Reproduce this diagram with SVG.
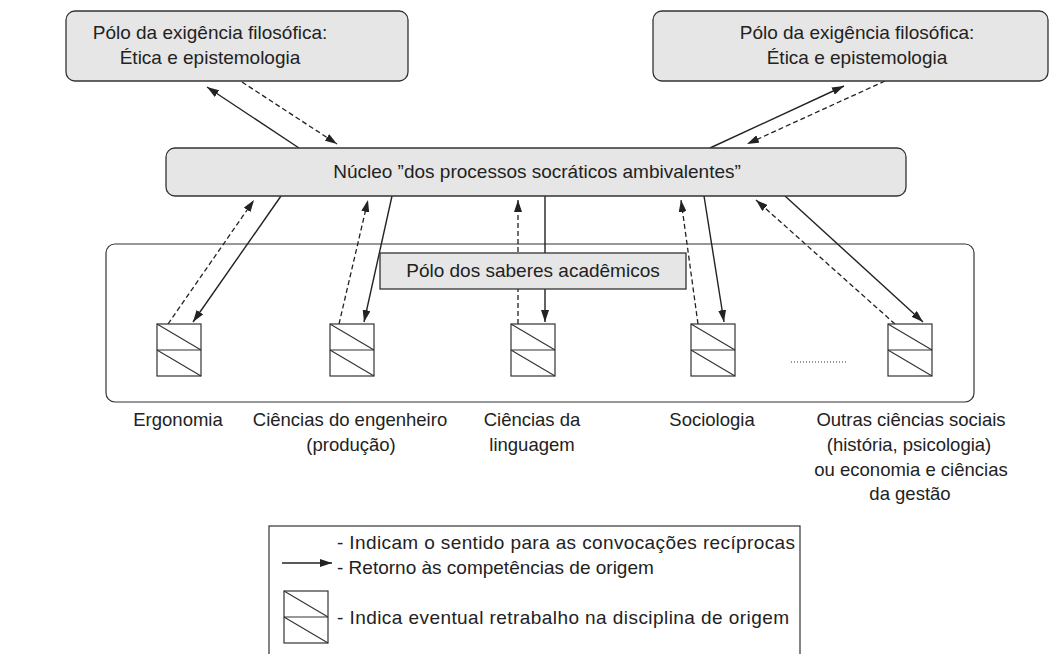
<svg xmlns="http://www.w3.org/2000/svg" width="1049" height="654" viewBox="0 0 1049 654">
<style>
.bx{fill:#e6e6e6;stroke:#333;stroke-width:1.3}
.frame{fill:none;stroke:#333;stroke-width:1.2}
.t{font-family:"Liberation Sans",Arial,sans-serif;font-size:19px;fill:#222}
.l{font-size:18.5px}
.c{text-anchor:middle}
.s{fill:none;stroke:#222;stroke-width:1.4}
.d{fill:none;stroke:#222;stroke-width:1.3;stroke-dasharray:5 3}
.sq{fill:#fff;stroke:#333;stroke-width:1.2}
.sql{stroke:#333;stroke-width:1.1;fill:none}
</style>
<defs>
<marker id="ah" viewBox="0 0 12 8" refX="12" refY="4" markerWidth="12" markerHeight="8" markerUnits="userSpaceOnUse" orient="auto">
<path d="M0,0 L12,4 L0,8 Z" fill="#222"/>
</marker>
<g id="sqsym">
<rect class="sq" x="0" y="0" width="44" height="52"/>
<line class="sql" x1="0" y1="26" x2="44" y2="26"/>
<line class="sql" x1="0" y1="0" x2="44" y2="26"/>
<line class="sql" x1="0" y1="26" x2="44" y2="52"/>
</g>
</defs>
<rect width="1049" height="654" fill="#fff"/>

<g id="outer-frame">
<rect class="frame" x="106" y="244" width="868" height="158" rx="9"/>
</g>

<g id="connectors">
<line class="s" x1="299" y1="148" x2="207" y2="87" marker-end="url(#ah)"/>
<line class="d" x1="242" y1="82" x2="337" y2="144" marker-end="url(#ah)"/>
<line class="s" x1="710" y1="148" x2="844" y2="86" marker-end="url(#ah)"/>
<line class="d" x1="885" y1="81" x2="747" y2="144" marker-end="url(#ah)"/>

<line class="d" x1="168" y1="324" x2="254" y2="200" marker-end="url(#ah)"/>
<line class="s" x1="281" y1="196" x2="193" y2="322" marker-end="url(#ah)"/>
<line class="d" x1="339" y1="324" x2="368" y2="200" marker-end="url(#ah)"/>
<line class="s" x1="392" y1="196" x2="364" y2="322" marker-end="url(#ah)"/>
<line class="d" x1="518" y1="324" x2="518" y2="200" marker-end="url(#ah)"/>
<line class="s" x1="545" y1="196" x2="545" y2="322" marker-end="url(#ah)"/>
<line class="d" x1="698" y1="324" x2="681" y2="200" marker-end="url(#ah)"/>
<line class="s" x1="704" y1="196" x2="724" y2="322" marker-end="url(#ah)"/>
<line class="d" x1="895" y1="324" x2="756" y2="200" marker-end="url(#ah)"/>
<line class="s" x1="785" y1="196" x2="923" y2="322" marker-end="url(#ah)"/>
</g>

<g id="polo-filosofico-1">
<rect class="bx" x="66" y="11" width="342" height="70" rx="9"/>
<text class="t c" x="210" y="39">Pólo da exigência filosófica:</text>
<text class="t c" x="210" y="64">Ética e epistemologia</text>
</g>

<g id="polo-filosofico-2">
<rect class="bx" x="653" y="11" width="395" height="70" rx="9"/>
<text class="t c" x="857" y="39">Pólo da exigência filosófica:</text>
<text class="t c" x="857" y="64">Ética e epistemologia</text>
</g>

<g id="nucleo">
<rect class="bx" x="166" y="148" width="740" height="48" rx="9"/>
<text class="t c" x="537" y="178">Núcleo ”dos processos socráticos ambivalentes”</text>
</g>

<g id="polo-saberes">
<rect class="bx" x="380" y="253" width="306" height="36"/>
<text class="t c" x="533" y="277">Pólo dos saberes acadêmicos</text>
</g>

<g id="ergonomia">
<use href="#sqsym" x="157" y="324"/>
<text class="t l c" x="178" y="426">Ergonomia</text>
</g>
<g id="engenheiro">
<use href="#sqsym" x="330" y="324"/>
<text class="t l c" x="350" y="426">Ciências do engenheiro</text>
<text class="t l c" x="351" y="451">(produção)</text>
</g>
<g id="linguagem">
<use href="#sqsym" x="511" y="324"/>
<text class="t l c" x="532" y="426">Ciências da</text>
<text class="t l c" x="532" y="451">linguagem</text>
</g>
<g id="sociologia">
<use href="#sqsym" x="691" y="324"/>
<text class="t l c" x="712" y="426">Sociologia</text>
</g>
<g id="outras">
<use href="#sqsym" x="888" y="324"/>
<text class="t l c" x="911" y="426">Outras ciências sociais</text>
<text class="t l c" x="909" y="451">(história, psicologia)</text>
<text class="t l c" x="911" y="476">ou economia e ciências</text>
<text class="t l c" x="910" y="500">da gestão</text>
</g>
<g id="ellipsis">
<line x1="791" y1="362" x2="847" y2="362" stroke="#333" stroke-width="1.2" stroke-dasharray="1 2"/>
</g>

<g id="legend">
<rect class="frame" x="269" y="526" width="531" height="140"/>
<line class="s" x1="282" y1="563" x2="332" y2="563" marker-end="url(#ah)"/>
<text class="t" x="337" y="549" textLength="458">- Indicam o sentido para as convocações recíprocas</text>
<text class="t" x="337" y="574">- Retorno às competências de origem</text>
<use href="#sqsym" x="284" y="591"/>
<text class="t" x="337" y="624" textLength="452">- Indica eventual retrabalho na disciplina de origem</text>
</g>
</svg>
